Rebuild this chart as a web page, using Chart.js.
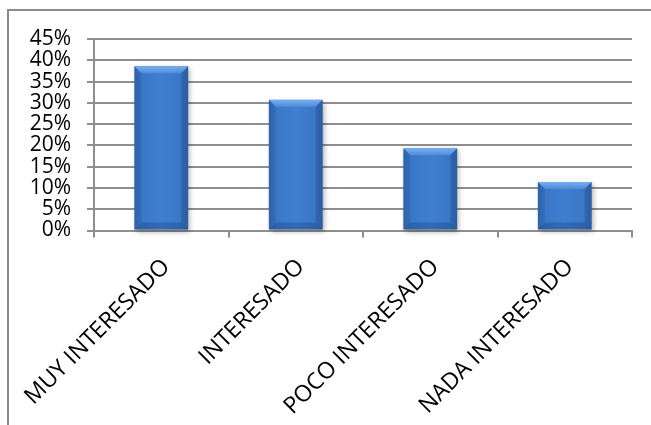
<!DOCTYPE html>
<html>
<head>
<meta charset="utf-8">
<style>
  body { margin: 0; background: #fff; }
  #wrap { position: relative; width: 651px; height: 425px; }
</style>
</head>
<body>
<div id="wrap"><canvas id="interestChart" width="651" height="425"></canvas></div>
<script src="https://cdn.jsdelivr.net/npm/chart.js"></script>
<script>
    // Survey answers and their share of responses (%)
    const categories = ['MUY INTERESADO', 'INTERESADO', 'POCO INTERESADO', 'NADA INTERESADO'];
    const percentages = [38.6, 30.7, 19.3, 11.4];
    const yTicks = [0, 5, 10, 15, 20, 25, 30, 35, 40, 45];

    const gridGray = '#8e8e8e';
    const yFont = { family: "'Open Sans', 'Noto Sans', sans-serif", size: 21 };
    const xFont = { family: "'Open Sans', 'Noto Sans', sans-serif", size: 23 };

    // frame around the whole chart (left and top edges show)
    const chartFrame = {
        id: 'chartFrame',
        beforeDraw(chart) {
            const ctx = chart.ctx;
            ctx.save();
            ctx.strokeStyle = '#8a8a8a';
            ctx.lineWidth = 2;
            ctx.beginPath();
            ctx.moveTo(8, 430);
            ctx.lineTo(8, 10);
            ctx.lineTo(660, 10);
            ctx.stroke();
            ctx.restore();
        }
    };

    // bevelled, shaded bars drawn over each bar element
    const bevelBars = {
        id: 'bevelBars',
        afterDatasetsDraw(chart) {
            const ctx = chart.ctx;
            chart.getDatasetMeta(0).data.forEach(bar => {
                const { x, y, base, width } = bar.getProps(['x', 'y', 'base', 'width'], true);
                const l = x - width / 2, r = x + width / 2, t = y, b = base;
                const d = 7;
                ctx.save();

                const body = ctx.createLinearGradient(l, 0, r, 0);
                body.addColorStop(0, '#3268b3');
                body.addColorStop(0.15, '#3a77c7');
                body.addColorStop(0.5, '#3f7fd0');
                body.addColorStop(0.85, '#3a77c7');
                body.addColorStop(1, '#3066b0');
                ctx.fillStyle = body;
                ctx.shadowColor = 'rgba(0,0,0,0.3)';
                ctx.shadowBlur = 5;
                ctx.shadowOffsetX = 2;
                ctx.shadowOffsetY = 2;
                ctx.fillRect(l, t, width, b - t);
                ctx.shadowColor = 'transparent';

                // top bevel
                const top = ctx.createLinearGradient(0, t, 0, t + d);
                top.addColorStop(0, '#78aeee');
                top.addColorStop(1, '#4f8bd9');
                ctx.fillStyle = top;
                ctx.beginPath();
                ctx.moveTo(l, t); ctx.lineTo(r, t); ctx.lineTo(r - d, t + d); ctx.lineTo(l + d, t + d);
                ctx.closePath(); ctx.fill();

                // left bevel
                ctx.fillStyle = 'rgba(30,70,130,0.15)';
                ctx.beginPath();
                ctx.moveTo(l, t); ctx.lineTo(l + d, t + d); ctx.lineTo(l + d, b - d); ctx.lineTo(l, b);
                ctx.closePath(); ctx.fill();

                // right bevel
                ctx.fillStyle = 'rgba(25,60,115,0.22)';
                ctx.beginPath();
                ctx.moveTo(r, t); ctx.lineTo(r - d, t + d); ctx.lineTo(r - d, b - d); ctx.lineTo(r, b);
                ctx.closePath(); ctx.fill();

                // bottom bevel
                ctx.fillStyle = 'rgba(20,55,105,0.3)';
                ctx.beginPath();
                ctx.moveTo(l, b); ctx.lineTo(l + d, b - d); ctx.lineTo(r - d, b - d); ctx.lineTo(r, b);
                ctx.closePath(); ctx.fill();

                ctx.restore();
            });
        }
    };

    const ctx = document.getElementById('interestChart').getContext('2d');
    const interestChart = new Chart(ctx, {
        type: 'bar',
        data: {
            labels: categories,
            datasets: [{
                data: percentages,
                backgroundColor: 'rgba(0,0,0,0)',
                borderWidth: 0,
                categoryPercentage: 1.0,
                barPercentage: 0.4
            }]
        },
        options: {
            responsive: false,
            animation: false,
            layout: { padding: { left: 0, right: 19, top: 39, bottom: 0 } },
            plugins: {
                legend: { display: false },
                tooltip: { enabled: false }
            },
            scales: {
                x: {
                    afterFit(scale) {
                        scale.height = 194.5;
                        scale.paddingLeft = 0;
                        scale.paddingRight = 0;
                    },
                    grid: {
                        offset: true,
                        drawOnChartArea: false,
                        drawTicks: true,
                        tickLength: 7,
                        color: gridGray,
                        lineWidth: 2
                    },
                    border: { color: gridGray, width: 2 },
                    ticks: {
                        autoSkip: false,
                        minRotation: 45,
                        maxRotation: 45,
                        padding: 16,
                        labelOffset: 5,
                        color: '#000',
                        font: xFont
                    }
                },
                y: {
                    min: 0,
                    max: 45,
                    afterFit(scale) { scale.width = 94; },
                    afterBuildTicks(scale) { scale.ticks = yTicks.map(v => ({ value: v })); },
                    grid: {
                        color: gridGray,
                        lineWidth: 2,
                        tickLength: 7
                    },
                    border: { color: gridGray, width: 2 },
                    ticks: {
                        autoSkip: false,
                        padding: 16,
                        color: '#000',
                        font: yFont,
                        callback: v => v + '%'
                    }
                }
            }
        },
        plugins: [chartFrame, bevelBars]
    });
</script>
</body>
</html>
